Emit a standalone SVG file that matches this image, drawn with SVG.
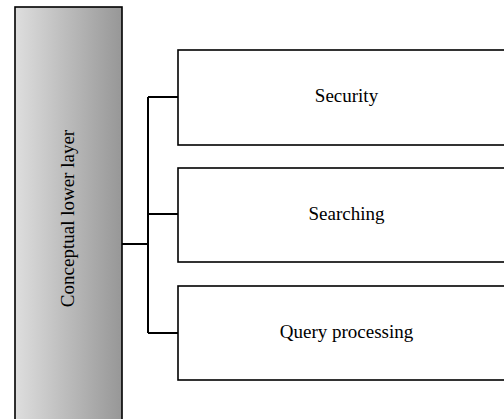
<svg xmlns="http://www.w3.org/2000/svg" width="504" height="419" viewBox="0 0 504 419">
<style>
.box{fill:#fff;stroke:#000;stroke-width:1.6}
.lbl{font-family:"Liberation Serif","Times New Roman",serif;font-size:19px;fill:#000;text-anchor:middle}
.conn{fill:none;stroke:#000;stroke-width:2}
</style>
<defs>
<linearGradient id="barGrad" x1="0" y1="0" x2="1" y2="0">
<stop offset="0" stop-color="#dedede"/>
<stop offset="1" stop-color="#979797"/>
</linearGradient>
</defs>
<rect width="504" height="419" fill="#fff"/>
<g id="conceptual-lower-layer">
<rect x="15" y="7" width="107" height="420" fill="url(#barGrad)" stroke="#000" stroke-width="1.6"/>
<text class="lbl" transform="translate(74,218.5) rotate(-90)" x="0" y="0">Conceptual lower layer</text>
</g>
<g id="connectors">
<path class="conn" d="M122,244 H148 M148,97 V333 M148,97 H178 M148,214 H178 M148,333 H178"/>
</g>
<g id="security">
<rect class="box" x="178" y="50" width="340" height="95"/>
<text class="lbl" x="346.5" y="102">Security</text>
</g>
<g id="searching">
<rect class="box" x="178" y="168" width="340" height="94"/>
<text class="lbl" x="346.5" y="220">Searching</text>
</g>
<g id="query-processing">
<rect class="box" x="178" y="286" width="340" height="94"/>
<text class="lbl" x="346.5" y="338">Query processing</text>
</g>
</svg>
